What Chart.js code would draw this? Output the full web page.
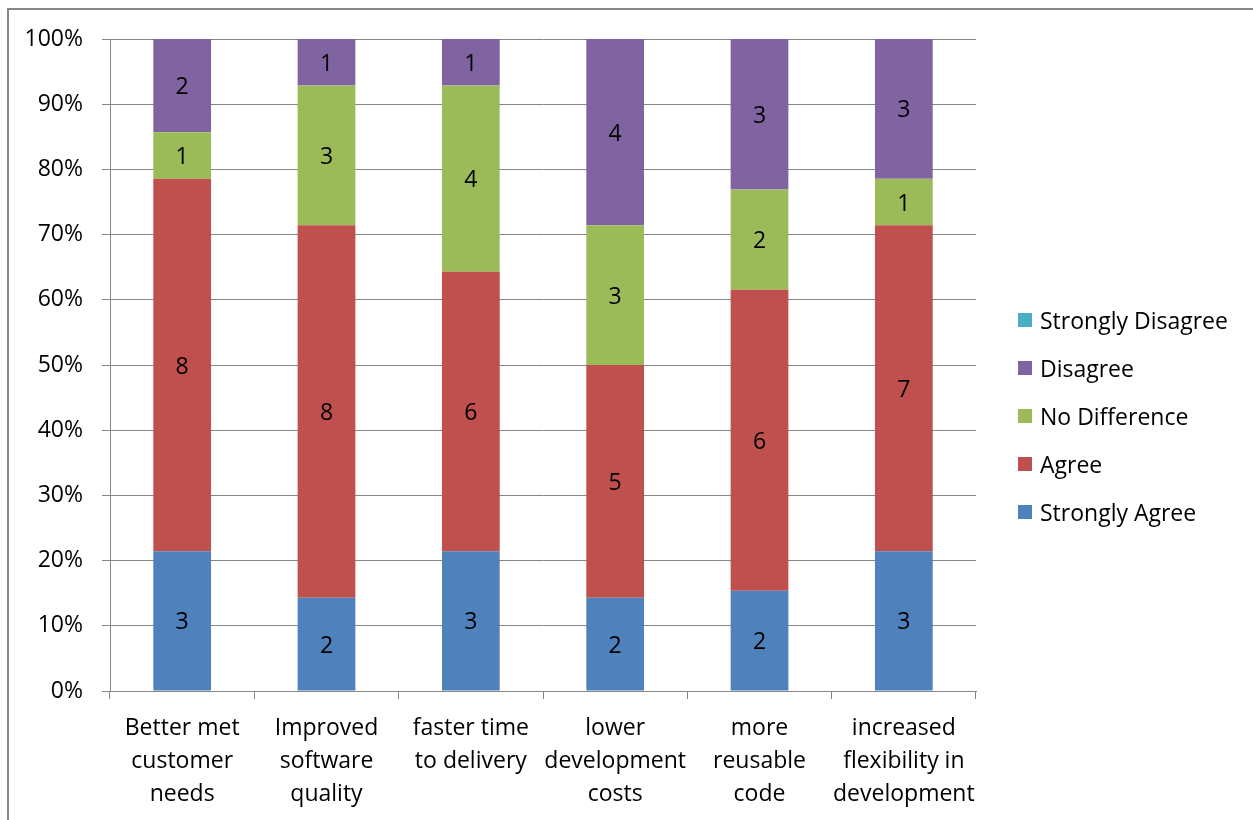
<!DOCTYPE html>
<html>
<head>
<meta charset="utf-8">
<title>Survey responses</title>
<script src="https://cdn.jsdelivr.net/npm/chart.js@4.4.1/dist/chart.umd.min.js"></script>
<style>
  html, body { margin: 0; padding: 0; background: #fff; }
  canvas { display: block; }
</style>
</head>
<body>
<canvas id="chart" width="1253" height="820"></canvas>
<script>
// Stacked 100% bars: response counts per statement, labelled with the raw counts.

const categories = [
  ["Better met", "customer", "needs"],
  ["Improved", "software", "quality"],
  ["faster time", "to delivery"],
  ["lower", "development", "costs"],
  ["more", "reusable", "code"],
  ["increased", "flexibility in", "development"],
];

const stronglyAgree = [3, 2, 3, 2, 2, 3];
const agree = [8, 8, 6, 5, 6, 7];
const noDifference = [1, 3, 4, 3, 2, 1];
const disagree = [2, 1, 1, 4, 3, 3];
const stronglyDisagree = [0, 0, 0, 0, 0, 0];

const yTicks = [0, 10, 20, 30, 40, 50, 60, 70, 80, 90, 100];

const FONT = "'Open Sans', Lato, sans-serif";
const TEXT_SIZE = 23;
const GRID = "#868686";

const series = [
  { label: "Strongly Agree", counts: stronglyAgree, color: "#4F81BD" },
  { label: "Agree", counts: agree, color: "#C0504D" },
  { label: "No Difference", counts: noDifference, color: "#9BBB59" },
  { label: "Disagree", counts: disagree, color: "#8064A2" },
  { label: "Strongly Disagree", counts: stronglyDisagree, color: "#4BACC6" },
];

const totals = categories.map((_, i) => series.reduce((s, d) => s + d.counts[i], 0));

const datasets = series.map((s) => ({
  label: s.label,
  counts: s.counts,
  data: s.counts.map((v, i) => (v / totals[i]) * 100),
  backgroundColor: s.color,
  borderWidth: 0,
  barPercentage: 0.4,
  categoryPercentage: 1,
}));

// count in the middle of each segment
const segmentLabels = {
  id: "segmentLabels",
  afterDatasetsDraw(chart) {
    const ctx = chart.ctx;
    ctx.save();
    ctx.font = TEXT_SIZE + "px " + FONT;
    ctx.fillStyle = "#000";
    ctx.textAlign = "center";
    ctx.textBaseline = "middle";
    chart.data.datasets.forEach((ds, di) => {
      const meta = chart.getDatasetMeta(di);
      meta.data.forEach((bar, i) => {
        if (!ds.counts[i]) return;
        ctx.fillText(String(ds.counts[i]), bar.x, (bar.y + bar.base) / 2 + 2);
      });
    });
    ctx.restore();
  },
};

// legend on the right, last series on top
const sideLegend = {
  id: "sideLegend",
  afterDraw(chart) {
    const ctx = chart.ctx;
    ctx.save();
    ctx.font = TEXT_SIZE + "px " + FONT;
    ctx.textBaseline = "middle";
    ctx.textAlign = "left";
    const items = chart.data.datasets.slice().reverse();
    items.forEach((ds, k) => {
      const y = 320 + k * 48;
      ctx.fillStyle = ds.backgroundColor;
      ctx.fillRect(1018, y - 7, 14, 14);
      ctx.fillStyle = "#000";
      ctx.fillText(ds.label, 1040, y + 2);
    });
    ctx.restore();
  },
};

// frame round the whole chart
const frame = {
  id: "frame",
  beforeDraw(chart) {
    const ctx = chart.ctx;
    ctx.save();
    ctx.fillStyle = "#fff";
    ctx.fillRect(0, 0, chart.width, chart.height);
    ctx.strokeStyle = GRID;
    ctx.lineWidth = 2;
    ctx.beginPath();
    ctx.moveTo(8, chart.height);
    ctx.lineTo(8, 9);
    ctx.lineTo(chart.width, 9);
    ctx.stroke();
    ctx.restore();
  },
};

new Chart(document.getElementById("chart"), {
  type: "bar",
  data: { labels: categories, datasets },
  plugins: [frame, segmentLabels, sideLegend],
  options: {
    responsive: false,
    animation: false,
    layout: { padding: { top: 39, right: 277, bottom: 0, left: 0 } },
    plugins: {
      legend: { display: false },
      tooltip: { enabled: false },
    },
    scales: {
      x: {
        stacked: true,
        offset: true,
        grid: {
          offset: true,
          drawOnChartArea: false,
          drawTicks: true,
          tickLength: 8,
          color: GRID,
        },
        border: { color: GRID, width: 1 },
        ticks: {
          color: "#000",
          font: { family: FONT, size: TEXT_SIZE, lineHeight: "33px" },
          padding: 13,
          maxRotation: 0,
          autoSkip: false,
        },
        afterFit(scale) { scale.height = 129; },
      },
      y: {
        stacked: true,
        min: 0,
        max: 100,
        afterBuildTicks(scale) { scale.ticks = yTicks.map((v) => ({ value: v })); },
        grid: { color: GRID, tickLength: 8, drawTicks: true },
        border: { color: GRID, width: 1 },
        ticks: {
          color: "#000",
          font: { family: FONT, size: TEXT_SIZE },
          padding: 19,
          callback: (v) => v + "%",
        },
        afterFit(scale) { scale.width = 110; },
      },
    },
  },
});
</script>
</body>
</html>
